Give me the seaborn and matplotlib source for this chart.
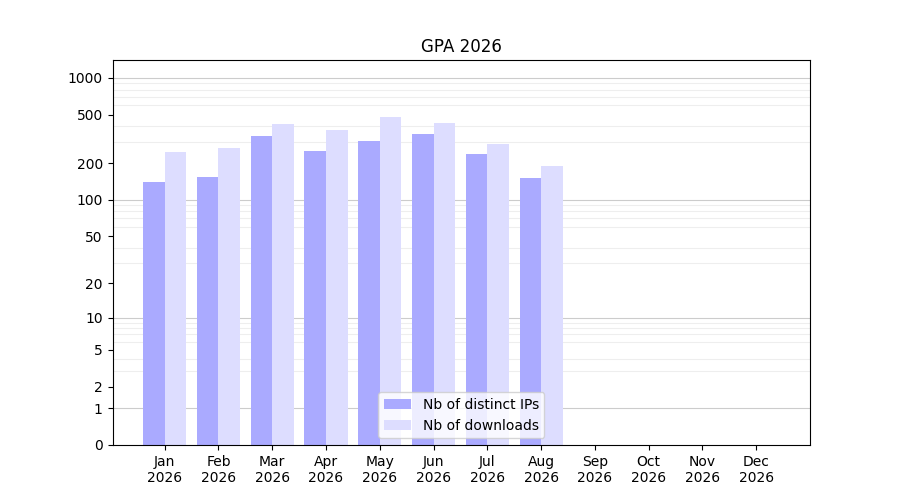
import numpy as np
import pandas as pd
import matplotlib
matplotlib.use("Agg")
import matplotlib.pyplot as plt
import seaborn as sns

months = ["Jan\n2026", "Feb\n2026", "Mar\n2026", "Apr\n2026", "May\n2026", "Jun\n2026",
          "Jul\n2026", "Aug\n2026", "Sep\n2026", "Oct\n2026", "Nov\n2026", "Dec\n2026"]
distinct_ips = [140, 155, 335, 250, 305, 350, 240, 150]
downloads = [245, 265, 420, 375, 475, 430, 290, 188]
yticks = [0, 1, 2, 5, 10, 20, 50, 100, 200, 500, 1000]

rows = []
for i, m in enumerate(months[:len(distinct_ips)]):
    rows.append({"month": m, "value": distinct_ips[i], "series": "Nb of distinct IPs"})
    rows.append({"month": m, "value": downloads[i], "series": "Nb of downloads"})
df = pd.DataFrame(rows)

fig, ax = plt.subplots(figsize=(9, 5), dpi=100)
fig.subplots_adjust(left=0.125, right=0.9, top=0.88, bottom=0.11)

ax.set_yscale("function", functions=(lambda y: np.log10(np.maximum(y, 0) + 1),
                                     lambda y: 10 ** y - 1))

sns.barplot(data=df, x="month", y="value", hue="series", order=months,
            palette=["#aaaaff", "#ddddff"], saturation=1, width=0.8,
            ax=ax, errorbar=None)

ax.set_ylim(0, 1400)
ax.set_xlim(-0.97, 12)
ax.set_yticks(yticks)
ax.set_yticklabels([str(t) for t in yticks])
minor = [m * 10 ** d for d in range(0, 4) for m in range(2, 10) if m * 10 ** d < 1400]
ax.set_yticks(minor, minor=True)
ax.tick_params(axis="y", which="minor", length=0)
ax.yaxis.grid(True, which="minor", color="#eeeeee", linewidth=0.8)
for v in [1, 10, 100, 1000]:
    ax.axhline(v, color="#cccccc", linewidth=0.8, zorder=0)
ax.set_axisbelow(True)

ax.set_xlabel("")
ax.set_ylabel("")
ax.set_title("GPA 2026")
ax.legend(loc="lower center", framealpha=0.8)

fig.savefig("out.png", dpi=100)
